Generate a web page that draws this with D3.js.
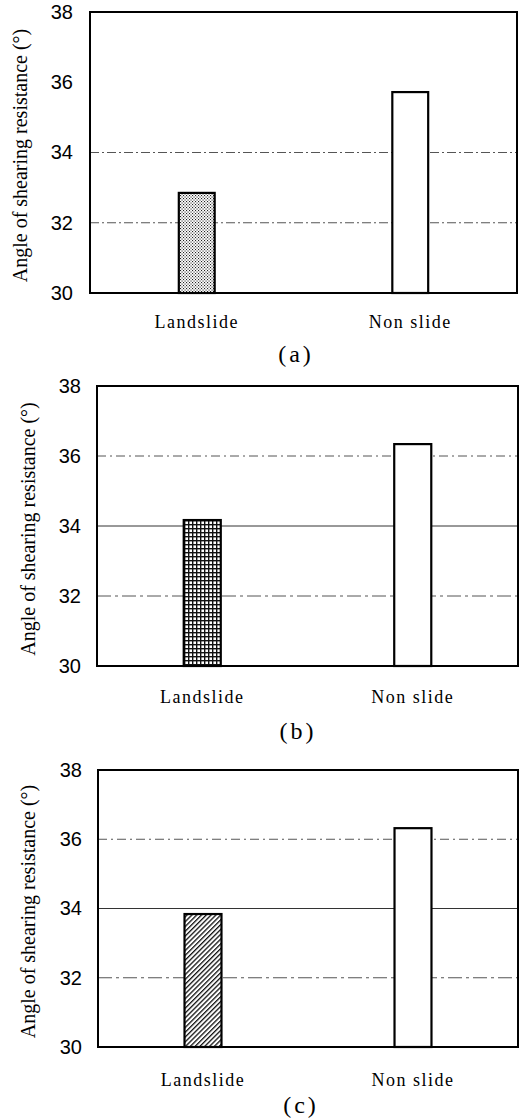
<!DOCTYPE html>
<html>
<head>
<meta charset="utf-8">
<script src="https://cdn.jsdelivr.net/npm/d3@7"></script>
<style>
html,body{margin:0;padding:0;background:#fff;}
svg{display:block;}
</style>
</head>
<body>
<svg id="chart" width="520" height="1119"></svg>
<script>
// ---- data ----
const categories = ["Landslide", "Non slide"];
const valuesA = [32.85, 35.72];
const valuesB = [34.17, 36.34];
const valuesC = [33.84, 36.32];
const yTicks = [30, 32, 34, 36, 38];
const gridA = [32, 34];
const gridB = [32, 34, 36];
const gridC = [32, 34, 36];
const panelLabels = ["(a)", "(b)", "(c)"];
const yTitle = "Angle of shearing resistance (\u00B0)";

// ---- layout / style ----
const svg = d3.select("#chart");
const defs = svg.append("defs");

// stipple
const p1 = defs.append("pattern").attr("id","patDots").attr("patternUnits","userSpaceOnUse")
  .attr("width",3).attr("height",3);
p1.append("rect").attr("width",3).attr("height",3).attr("fill","#fff");
p1.append("rect").attr("x",0).attr("y",0).attr("width",1.1).attr("height",1.1).attr("fill","#222");
p1.append("rect").attr("x",1.5).attr("y",1.5).attr("width",1.1).attr("height",1.1).attr("fill","#222");

// grid
const p2 = defs.append("pattern").attr("id","patGrid").attr("patternUnits","userSpaceOnUse")
  .attr("width",4).attr("height",4);
p2.append("rect").attr("width",4).attr("height",4).attr("fill","#fff");
p2.append("rect").attr("x",0).attr("y",0).attr("width",4).attr("height",1.4).attr("fill","#111");
p2.append("rect").attr("x",0).attr("y",0).attr("width",1.4).attr("height",4).attr("fill","#111");

// hatch
const p3 = defs.append("pattern").attr("id","patHatch").attr("patternUnits","userSpaceOnUse")
  .attr("width",3.4).attr("height",3.4).attr("patternTransform","rotate(45)");
p3.append("rect").attr("width",3.4).attr("height",3.4).attr("fill","#fff");
p3.append("rect").attr("x",0).attr("y",0).attr("width",1.3).attr("height",3.4).attr("fill","#111");

const gridStyles = {
  a: {32:"9,3,2,3", 34:"9,3,2,3"},
  b: {32:"14,4,3,4", 34:null, 36:"9,4,2,4"},
  c: {32:"14,4,3,4", 34:null, 36:"9,4,2,4"}
};

const panels = [
  {key:"a", values:valuesA, grid:gridA, fill:"url(#patDots)", left:90, right:517, top:12, bottom:293,
   barFrac:0.084, tickGap:17, titleX:21, xLabelY:328, panelLabelX:296, panelLabelY:362},
  {key:"b", values:valuesB, grid:gridB, fill:"url(#patGrid)", left:97, right:518, top:386, bottom:666,
   barFrac:0.088, tickGap:16, titleX:29, xLabelY:703, panelLabelX:298, panelLabelY:739},
  {key:"c", values:valuesC, grid:gridC, fill:"url(#patHatch)", left:98, right:518, top:770, bottom:1047,
   barFrac:0.088, tickGap:16, titleX:29, xLabelY:1086, panelLabelX:301, panelLabelY:1113}
];

panels.forEach((p, i) => {
  const g = svg.append("g");
  const y = d3.scaleLinear().domain([30, 38]).range([p.bottom, p.top]);
  const pi = 1 - 2 * p.barFrac;
  const x = d3.scaleBand().domain(categories).range([p.left, p.right])
    .paddingInner(pi).paddingOuter(pi / 2);

  // gridlines
  g.selectAll("line.grid").data(p.grid).join("line")
    .attr("class","grid")
    .attr("x1", p.left).attr("x2", p.right)
    .attr("y1", d => y(d)).attr("y2", d => y(d))
    .attr("stroke", d => gridStyles[p.key][d] ? "#555" : "#333")
    .attr("stroke-width", 1)
    .attr("stroke-dasharray", d => gridStyles[p.key][d]);

  // y axis tick labels
  const yAxis = d3.axisLeft(y).tickValues(yTicks).tickSize(0).tickPadding(p.tickGap).tickFormat(d3.format("d"));
  const ag = g.append("g").attr("transform", `translate(${p.left},0)`).call(yAxis);
  ag.select(".domain").remove();
  ag.selectAll("text").attr("font-family","'Liberation Sans', Arial, sans-serif")
    .attr("font-size", 20).attr("fill","#000");

  // bars
  g.selectAll("rect.bar").data(p.values).join("rect")
    .attr("class","bar")
    .attr("x", (d, j) => x(categories[j]))
    .attr("width", x.bandwidth())
    .attr("y", d => y(d))
    .attr("height", d => y(30) - y(d))
    .attr("fill", (d, j) => j === 0 ? p.fill : "#fff")
    .attr("stroke", "#000").attr("stroke-width", 2.2);

  // frame
  g.append("rect").attr("x", p.left).attr("y", p.top)
    .attr("width", p.right - p.left).attr("height", p.bottom - p.top)
    .attr("fill","none").attr("stroke","#000").attr("stroke-width",2);

  // x category labels
  const xAxis = d3.axisBottom(x).tickSize(0).tickPadding(0);
  const xg = g.append("g").attr("transform", `translate(0,${p.xLabelY})`).call(xAxis);
  xg.select(".domain").remove();
  xg.selectAll("text").attr("dy", 0).attr("y", 0)
    .attr("font-family","'Liberation Serif', 'Times New Roman', serif")
    .attr("font-size", 18).attr("letter-spacing","1.5px").attr("fill","#000");

  // y title
  g.append("text")
    .attr("transform", `translate(${p.titleX},${(p.top + p.bottom) / 2 + 3}) rotate(-90)`)
    .attr("text-anchor","middle").attr("dy","0.32em")
    .attr("font-family","'Liberation Serif', 'Times New Roman', serif")
    .attr("font-size", 20).attr("fill","#000")
    .text(yTitle);

  // panel label
  g.append("text").attr("x", p.panelLabelX).attr("y", p.panelLabelY)
    .attr("text-anchor","middle")
    .attr("font-family","'Liberation Serif', 'Times New Roman', serif")
    .attr("font-size", 24).attr("letter-spacing","3px").attr("fill","#000")
    .text(panelLabels[i]);
});
</script>
</body>
</html>
